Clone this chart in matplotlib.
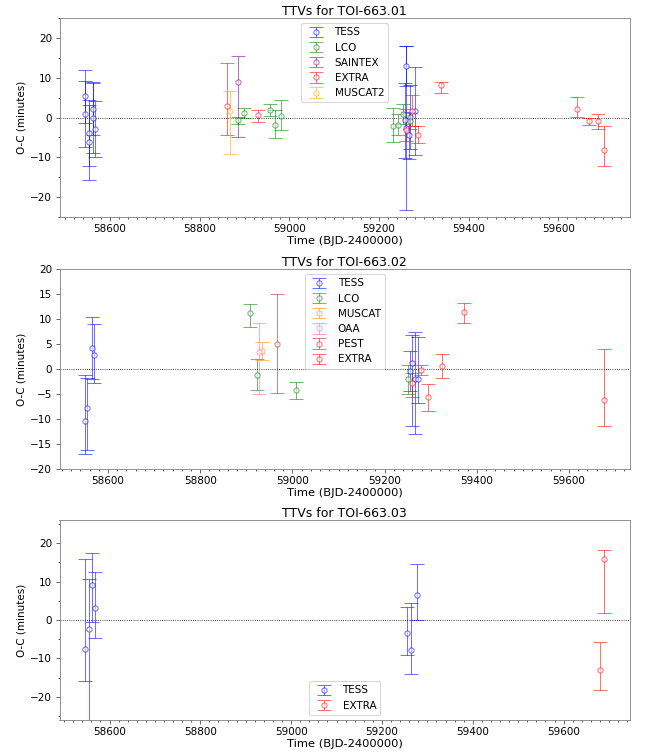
import matplotlib
matplotlib.use("Agg")
import matplotlib.pyplot as plt
from matplotlib.ticker import MultipleLocator

# ---------------- Panel 1: TOI-663.01 ----------------
p1_tess_t = [58545, 58545, 58554, 58554, 58561, 58561, 58567, 59257, 59261, 59261, 59266, 59270, 59280]
p1_tess_oc = [5.3, 0.8, -3.9, -6.2, 2.2, 0.0, -2.8, -0.75, 12.9, -2.7, -4.5, 0.1, 1.6]
p1_tess_lo = [6.6, 8.3, 8.2, 9.4, 6.5, 9.0, 7.0, 9.5, 5.0, 20.6, 6.0, 8.0, 11.0]
p1_tess_hi = [6.6, 8.3, 8.2, 9.4, 6.5, 9.0, 7.0, 9.5, 5.0, 20.6, 6.0, 8.0, 11.0]

p1_lco_t = [58885, 58898, 58956, 58968, 58981, 59232, 59242, 59253, 59270]
p1_lco_oc = [-0.75, 1.1, 1.9, -1.8, 0.5, -2.25, -1.8, 0.9, -0.9]
p1_lco_lo = [1.0, 1.2, 1.5, 3.3, 3.6, 3.8, 2.6, 2.5, 2.0]
p1_lco_hi = [1.0, 1.2, 1.5, 3.8, 4.0, 4.6, 2.6, 2.5, 2.0]

p1_saintex_t = [58886]
p1_saintex_oc = [8.8]
p1_saintex_lo = [13.6]
p1_saintex_hi = [6.7]

p1_extra_t = [58860, 58931, 59261, 59274, 59287, 59339, 59642, 59668, 59689, 59702]
p1_extra_oc = [2.8, 0.6, -3.25, 1.6, -4.5, 8.2, 2.1, -1.0, -1.0, -8.1]
p1_extra_lo = [7.3, 1.7, 2.75, 3.85, 1.9, 2.0, 2.0, 0.9, 2.0, 4.0]
p1_extra_hi = [10.9, 1.3, 5.45, 4.0, 2.25, 0.8, 3.1, 0.8, 1.8, 6.0]

p1_muscat2_t = [58867]
p1_muscat2_oc = [1.75]
p1_muscat2_lo = [11.0]
p1_muscat2_hi = [5.0]

# ---------------- Panel 2: TOI-663.02 ----------------
p2_tess_t = [58551, 58555, 58565, 58569, 59255, 59259, 59265, 59273]
p2_tess_oc = [-10.3, -7.7, 4.3, 2.9, -0.3, 1.3, -2.0, -2.0]
p2_tess_lo = [6.6, 8.5, 6.3, 5.6, 4.0, 12.7, 10.9, 4.7]
p2_tess_hi = [9.1, 6.0, 6.2, 6.2, 4.0, 5.5, 9.5, 8.5]

p2_lco_t = [58909, 58923, 59007, 59251]
p2_lco_oc = [11.3, -1.1, -4.2, -1.9]
p2_lco_lo = [2.8, 3.0, 1.8, 3.0]
p2_lco_hi = [1.8, 3.2, 1.7, 2.7]

p2_muscat_t = [58933]
p2_muscat_oc = [3.7]
p2_muscat_lo = [1.8]
p2_muscat_hi = [1.8]

p2_oaa_t = [58928]
p2_oaa_oc = [3.5]
p2_oaa_lo = [8.5]
p2_oaa_hi = [5.8]

p2_pest_t = [58966]
p2_pest_oc = [5.1]
p2_pest_lo = [9.9]
p2_pest_hi = [10.0]

p2_extra_t = [59260, 59278, 59293, 59325, 59372, 59676]
p2_extra_oc = [-2.7, -0.1, -5.5, 0.7, 11.5, -6.1]
p2_extra_lo = [2.8, 1.1, 2.8, 2.4, 2.2, 5.2]
p2_extra_hi = [2.0, 1.0, 2.6, 2.4, 1.8, 10.2]

# ---------------- Panel 3: TOI-663.03 ----------------
p3_tess_t = [58547, 58554, 58561, 58568, 59256, 59263, 59277]
p3_tess_oc = [-7.5, -2.3, 9.0, 3.2, -3.3, -7.8, 6.6]
p3_tess_lo = [8.3, 30.0, 9.4, 7.8, 5.7, 6.2, 6.6]
p3_tess_hi = [23.3, 13.0, 8.3, 9.2, 6.8, 12.1, 7.9]

p3_extra_t = [59681, 59689]
p3_extra_oc = [-13.0, 15.8]
p3_extra_lo = [5.1, 14.1]
p3_extra_hi = [7.4, 2.5]

titles = ["TTVs for TOI-663.01", "TTVs for TOI-663.02", "TTVs for TOI-663.03"]
xlabel = "Time (BJD-2400000)"
ylabel = "O-C (minutes)"

panels = [
    [("TESS", "blue", p1_tess_t, p1_tess_oc, p1_tess_lo, p1_tess_hi),
     ("LCO", "green", p1_lco_t, p1_lco_oc, p1_lco_lo, p1_lco_hi),
     ("SAINTEX", "purple", p1_saintex_t, p1_saintex_oc, p1_saintex_lo, p1_saintex_hi),
     ("EXTRA", "red", p1_extra_t, p1_extra_oc, p1_extra_lo, p1_extra_hi),
     ("MUSCAT2", "orange", p1_muscat2_t, p1_muscat2_oc, p1_muscat2_lo, p1_muscat2_hi)],
    [("TESS", "blue", p2_tess_t, p2_tess_oc, p2_tess_lo, p2_tess_hi),
     ("LCO", "green", p2_lco_t, p2_lco_oc, p2_lco_lo, p2_lco_hi),
     ("MUSCAT", "darkorange", p2_muscat_t, p2_muscat_oc, p2_muscat_lo, p2_muscat_hi),
     ("OAA", "hotpink", p2_oaa_t, p2_oaa_oc, p2_oaa_lo, p2_oaa_hi),
     ("PEST", "brown", p2_pest_t, p2_pest_oc, p2_pest_lo, p2_pest_hi),
     ("EXTRA", "red", p2_extra_t, p2_extra_oc, p2_extra_lo, p2_extra_hi)],
    [("TESS", "blue", p3_tess_t, p3_tess_oc, p3_tess_lo, p3_tess_hi),
     ("EXTRA", "red", p3_extra_t, p3_extra_oc, p3_extra_lo, p3_extra_hi)],
]

ylims = [(-25, 25), (-20, 20), (-26, 26)]
ymajor = [10, 5, 10]
legend_locs = ["upper center", "upper center", "lower center"]

W, H = 647, 755
fig = plt.figure(figsize=(W / 75, H / 75), dpi=75)
left, right = 59.5 / W, 630 / W
tops = [18, 269, 520]
heights = [199, 200, 200]

for i, series in enumerate(panels):
    ax = fig.add_axes([left, 1 - (tops[i] + heights[i]) / H, right - left, heights[i] / H])
    ax.axhline(0, color="black", ls=":", lw=0.8, zorder=0)
    for name, col, t, oc, lo, hi in series:
        ax.errorbar(t, oc, yerr=[lo, hi], fmt="o", color=col, mfc="white", mec=col,
                    ms=5, capsize=7, elinewidth=1.0, alpha=0.55, label=name)
    ax.set_ylim(*ylims[i])
    ax.yaxis.set_major_locator(MultipleLocator(ymajor[i]))
    ax.xaxis.set_major_locator(MultipleLocator(200))
    ax.xaxis.set_minor_locator(MultipleLocator(20))
    if ymajor[i] == 10:
        ax.yaxis.set_minor_locator(MultipleLocator(5))
    ax.set_title(titles[i], pad=3)
    ax.set_xlabel(xlabel, labelpad=2, fontsize=11)
    ax.set_ylabel(ylabel)
    for s in ax.spines.values():
        s.set_color("0.5")
    ax.tick_params(colors="0.3", labelcolor="black")
    ax.legend(loc=legend_locs[i])

fig.savefig("out.png", dpi=75)
